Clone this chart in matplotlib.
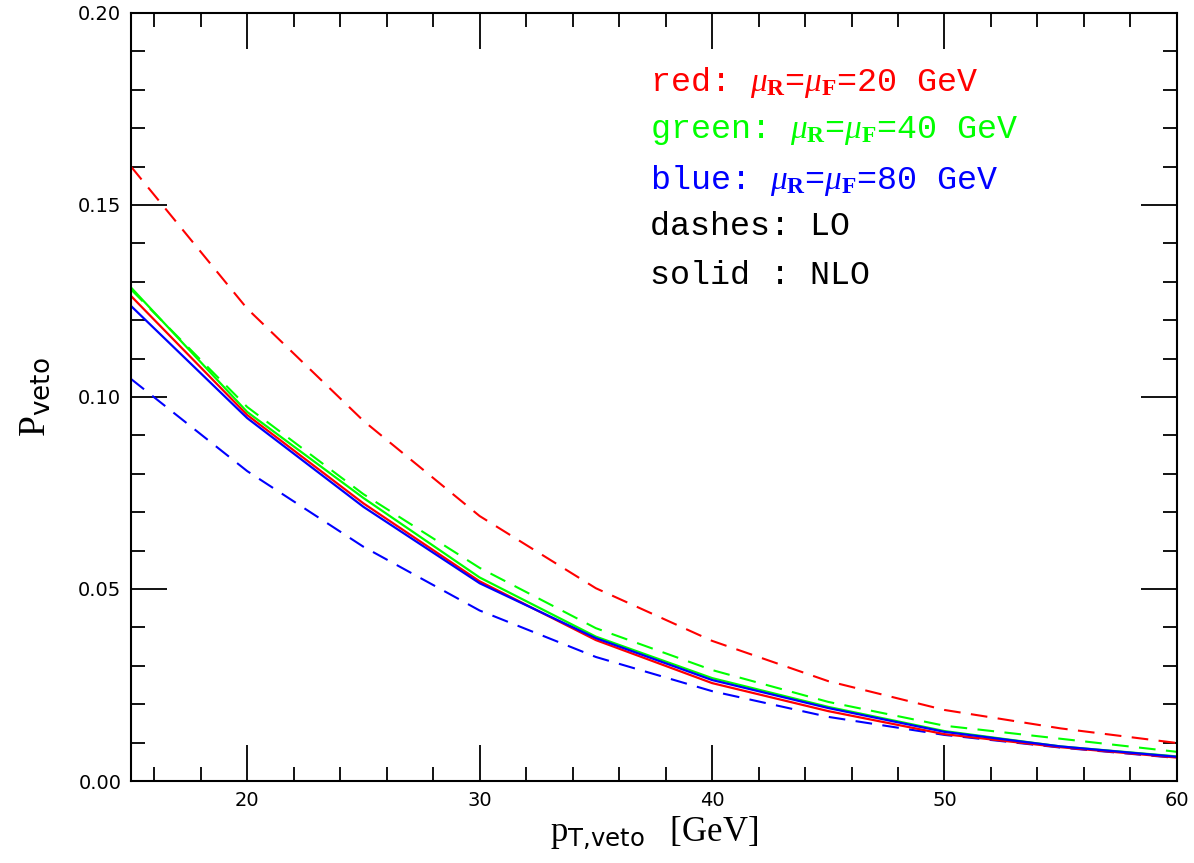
import matplotlib
matplotlib.use("Agg")
import matplotlib.pyplot as plt
from matplotlib.ticker import MultipleLocator

plt.rcParams["mathtext.fontset"] = "custom"
plt.rcParams["mathtext.rm"] = "Liberation Serif"
plt.rcParams["mathtext.it"] = "Liberation Serif:italic"
plt.rcParams["mathtext.bf"] = "Liberation Serif:bold"
plt.rcParams["mathtext.sf"] = "DejaVu Sans"

# pT,veto values [GeV]
pt = [15, 20, 25, 30, 35, 40, 45, 50, 55, 60]

# LO (dashed)
red_lo = [0.160, 0.123, 0.0938, 0.069, 0.0502, 0.0365, 0.026, 0.0185, 0.0137, 0.0099]
green_lo = [0.128, 0.0974, 0.0747, 0.0555, 0.0398, 0.0289, 0.0206, 0.0144, 0.0110, 0.0076]
blue_lo = [0.1047, 0.0807, 0.061, 0.0444, 0.0323, 0.0234, 0.0167, 0.0120, 0.0087, 0.0060]

# NLO (solid)
red_nlo = [0.1263, 0.0953, 0.0723, 0.052, 0.0367, 0.0255, 0.0182, 0.0122, 0.0088, 0.0061]
green_nlo = [0.1285, 0.0961, 0.0737, 0.053, 0.0376, 0.0268, 0.0193, 0.0130, 0.0090, 0.0064]
blue_nlo = [0.1237, 0.0945, 0.0714, 0.0515, 0.0372, 0.0263, 0.0190, 0.0128, 0.0090, 0.0063]

legend_lines = [
    (r"red: $\mu_{\mathbf{R}}$=$\mu_{\mathbf{F}}$=20 GeV", "#ff0000"),
    (r"green: $\mu_{\mathbf{R}}$=$\mu_{\mathbf{F}}$=40 GeV", "#00ff00"),
    (r"blue: $\mu_{\mathbf{R}}$=$\mu_{\mathbf{F}}$=80 GeV", "#0000ff"),
    ("dashes: LO", "black"),
    ("solid : NLO", "black"),
]

fig = plt.figure(figsize=(11.94, 8.63), dpi=100)
ax = fig.add_axes([0.1097, 0.095, 0.876, 0.890])

dash = (0, (8, 5))
ax.plot(pt, red_lo, color="#ff0000", lw=1.5, linestyle=dash)
ax.plot(pt, green_lo, color="#00ff00", lw=1.5, linestyle=dash)
ax.plot(pt, blue_lo, color="#0000ff", lw=1.5, linestyle=dash)
ax.plot(pt, green_nlo, color="#00ff00", lw=1.6)
ax.plot(pt, red_nlo, color="#ff0000", lw=1.6)
ax.plot(pt, blue_nlo, color="#0000ff", lw=1.6)

ax.set_xlim(15, 60)
ax.set_ylim(0, 0.2)
ax.xaxis.set_major_locator(MultipleLocator(10))
ax.xaxis.set_minor_locator(MultipleLocator(2))
ax.yaxis.set_major_locator(MultipleLocator(0.05))
ax.yaxis.set_minor_locator(MultipleLocator(0.01))
ax.yaxis.set_major_formatter(lambda v, p: f"{v:.2f}")
ax.tick_params(which="both", direction="in", top=True, right=True, width=1.3)
ax.tick_params(which="major", length=26, labelsize=14, pad=7)
ax.tick_params(which="minor", length=10)
for s in ax.spines.values():
    s.set_linewidth(1.5)

ax.set_xlabel(r"$\mathrm{p}_{\mathsf{T{,}veto}}\ \ \ [\mathrm{GeV}]$", fontsize=25, labelpad=4)
ax.set_ylabel(r"$\mathrm{P}_{\mathsf{veto}}$", fontsize=27, labelpad=18)

for i, (txt, col) in enumerate(legend_lines):
    ax.text(0.496, 0.932 - i * 0.0635, txt, transform=ax.transAxes, color=col,
            family="Liberation Mono", fontsize=24, va="top", ha="left")

fig.savefig("out.png", dpi=100)
